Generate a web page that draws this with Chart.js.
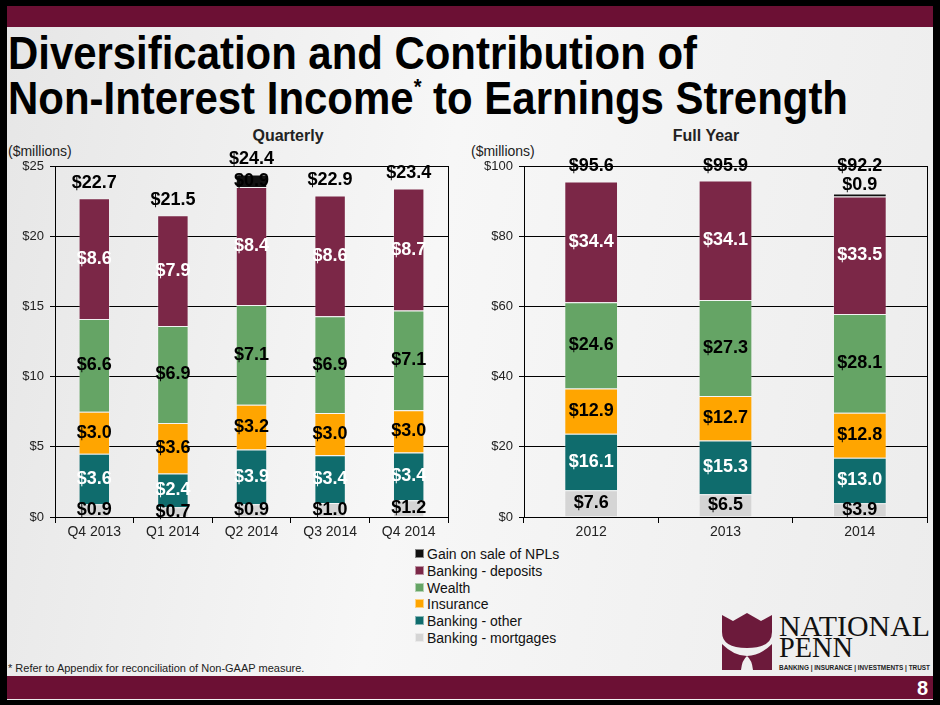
<!DOCTYPE html>
<html>
<head>
<meta charset="utf-8">
<script src="https://cdn.jsdelivr.net/npm/chart.js@4"></script>
<style>
  body { margin: 0; background: #000; }
  #slide { position: relative; width: 940px; height: 705px; background: #000; overflow: hidden; font-family: "Liberation Sans", Arial, sans-serif; }
  #page { position: absolute; left: 7px; top: 6px; width: 926px; height: 694px; background: linear-gradient(100deg, #e6e6e6 0%, #f7f7f7 45%, #ececec 100%); }
  .band { position: absolute; left: 7px; width: 926px; background: #6c1034; }
  .title { position: absolute; left: 8px; font-weight: bold; font-size: 46px; color: #000; white-space: nowrap; transform-origin: left top; line-height: 46px; }
  .title sup { font-size: 22px; vertical-align: 20px; line-height: 0; }
  .lbl { position: absolute; font-size: 14px; color: #222; white-space: nowrap; }
  .head { position: absolute; font-size: 16px; font-weight: bold; color: #222; transform: translateX(-50%); white-space: nowrap; }
  canvas { position: absolute; }
  #legend { position: absolute; left: 415px; top: 546px; font-size: 14px; color: #111; }
  #legend div { height: 16.8px; line-height: 16.8px; white-space: nowrap; }
  #legend span { display: inline-block; width: 7px; height: 7px; margin-right: 3px; vertical-align: 1px; border: 1px solid rgba(255,255,255,0.5); }
</style>
</head>
<body>
<div id="slide">
  <div id="page"></div>
  <div class="band" style="top:6px;height:21px;"></div>
  <div class="band" style="top:676px;height:23px;"></div>
  <div style="position:absolute;left:900px;top:676px;width:28px;height:23px;color:#fff;font-weight:bold;font-size:20px;line-height:25px;text-align:right;">8</div>

  <div class="title" id="t1" style="top:30px;">Diversification and Contribution of</div>
  <div class="title" id="t2" style="top:75px;">Non-Interest Income<sup>*</sup> to Earnings Strength</div>

  <div class="head" style="left:288px;top:127px;">Quarterly</div>
  <div class="head" style="left:706px;top:127px;">Full Year</div>
  <div class="lbl" style="left:8px;top:143px;">($millions)</div>
  <div class="lbl" style="left:471px;top:143px;">($millions)</div>

  <canvas id="quarterChart" width="442" height="405" style="left:8px;top:140px;"></canvas>
  <canvas id="yearChart" width="449" height="405" style="left:480px;top:140px;"></canvas>

  <div id="legend"></div>

  <div style="position:absolute;left:8px;top:662px;font-size:11px;color:#222;">* Refer to Appendix for reconciliation of Non-GAAP measure.</div>

  <svg style="position:absolute;left:720px;top:610px;" width="215" height="64">
    <path d="M2,5 L13,11 L27,3 L41,11 L52,5 L52,22 Q52,38 27,38 Q2,38 2,22 Z" fill="#6c1a3b"/>
    <path d="M2,34 Q14,46 27,46 Q22,50 21,60 L2,60 Z" fill="#6c1a3b"/>
    <path d="M52,34 Q40,46 27,46 Q32,50 33,60 L52,60 Z" fill="#6c1a3b"/>
    <text x="59" y="26" font-family="Liberation Serif, Times New Roman, serif" font-size="30" textLength="151" lengthAdjust="spacingAndGlyphs" fill="#111">NATIONAL</text>
    <text x="59" y="47" font-family="Liberation Serif, Times New Roman, serif" font-size="30" textLength="74" lengthAdjust="spacingAndGlyphs" fill="#111">PENN</text>
    <text x="59" y="60" font-family="Liberation Sans, Arial, sans-serif" font-weight="bold" font-size="8" textLength="151" lengthAdjust="spacingAndGlyphs" fill="#222">BANKING | INSURANCE | INVESTMENTS | TRUST</text>
  </svg>
</div>

<script>
const seriesNames = ['Banking - mortgages', 'Banking - other', 'Insurance', 'Wealth', 'Banking - deposits', 'Gain on sale of NPLs'];
const seriesColors = ['#d5d5d5', '#0f6c6d', '#ffa500', '#65a465', '#7b2747', '#111111'];
const labelColors = ['#000', '#fff', '#000', '#000', '#fff', '#000'];

// quarterly
const quarters = ['Q4 2013', 'Q1 2014', 'Q2 2014', 'Q3 2014', 'Q4 2014'];
const qMortgages = [0.9, 0.7, 0.9, 1.0, 1.2];
const qOther = [3.6, 2.4, 3.9, 3.4, 3.4];
const qInsurance = [3.0, 3.6, 3.2, 3.0, 3.0];
const qWealth = [6.6, 6.9, 7.1, 6.9, 7.1];
const qDeposits = [8.6, 7.9, 8.4, 8.6, 8.7];
const qGain = [0, 0, 0.9, 0, 0];
const qTotals = [22.7, 21.5, 24.4, 22.9, 23.4];
const qTicks = [0, 5, 10, 15, 20, 25];

// full year
const years = ['2012', '2013', '2014'];
const yMortgages = [7.6, 6.5, 3.9];
const yOther = [16.1, 15.3, 13.0];
const yInsurance = [12.9, 12.7, 12.8];
const yWealth = [24.6, 27.3, 28.1];
const yDeposits = [34.4, 34.1, 33.5];
const yGain = [0, 0, 0.9];
const yTotals = [95.6, 95.9, 92.2];
const yTicks = [0, 20, 40, 60, 80, 100];

const FONT = '"Liberation Sans", Arial, sans-serif';

// fit the condensed-looking title lines
function fitWidth(id, w) {
    const el = document.getElementById(id);
    const r = el.getBoundingClientRect().width;
    el.style.transform = 'scaleX(' + (w / r) + ')';
}
fitWidth('t1', 689);
fitWidth('t2', 840);

// legend (reverse order like the slide)
const legend = document.getElementById('legend');
for (let i = seriesNames.length - 1; i >= 0; i--) {
    const row = document.createElement('div');
    row.innerHTML = '<span style="background:' + seriesColors[i] + '"></span>' + seriesNames[i];
    legend.appendChild(row);
}

const valueLabels = {
    id: 'valueLabels',
    afterDatasetsDraw(chart, args, opts) {
        const ctx = chart.ctx;
        const yScale = chart.scales.y;
        ctx.save();
        ctx.font = 'bold 18px ' + FONT;
        ctx.textAlign = 'center';
        ctx.textBaseline = 'middle';
        chart.data.datasets.forEach((ds, di) => {
            const meta = chart.getDatasetMeta(di);
            meta.data.forEach((bar, i) => {
                const v = ds.data[i];
                if (!v) return;
                let y = (bar.y + bar.base) / 2;
                if (ds.labelAbove) y = bar.y - 8;
                ctx.fillStyle = labelColors[di];
                ctx.fillText('$' + v.toFixed(1), bar.x, y);
            });
        });
        const meta0 = chart.getDatasetMeta(0);
        ctx.fillStyle = '#000';
        opts.totals.forEach((t, i) => {
            const x = meta0.data[i].x;
            let y;
            if (opts.totalsAtTop) {
                y = yScale.getPixelForValue(yScale.max);
            } else {
                y = yScale.getPixelForValue(t) - 15;
            }
            ctx.fillText('$' + t.toFixed(1), x, y);
        });
        // right frame line
        ctx.strokeStyle = '#000';
        ctx.lineWidth = 1;
        ctx.beginPath();
        ctx.moveTo(chart.chartArea.right + 0.5, chart.chartArea.top);
        ctx.lineTo(chart.chartArea.right + 0.5, chart.chartArea.bottom);
        ctx.stroke();
        ctx.restore();
    }
};

function makeDatasets(arrays, gainAbove) {
    return arrays.map((arr, i) => ({
        label: seriesNames[i],
        data: arr,
        backgroundColor: seriesColors[i],
        borderColor: 'rgba(255,255,255,0.25)',
        borderWidth: 1,
        barPercentage: 0.4,
        categoryPercentage: 1.0,
        labelAbove: gainAbove && i === 5
    }));
}

function makeOptions(max, step, yWidth, totals, totalsAtTop) {
    return {
        responsive: false,
        animation: false,
        layout: { padding: { top: 26, right: 2 } },
        plugins: {
            legend: { display: false },
            tooltip: { enabled: false },
            valueLabels: { totals: totals, totalsAtTop: totalsAtTop }
        },
        scales: {
            x: {
                stacked: true,
                grid: { offset: true, drawOnChartArea: false, color: '#000', tickLength: 6 },
                border: { color: '#000' },
                ticks: { color: '#222', font: { family: FONT, size: 14 }, padding: 1 },
                afterFit: s => { s.height = 28; }
            },
            y: {
                stacked: true,
                min: 0,
                max: max,
                ticks: { stepSize: step, color: '#222', padding: 6, font: { family: FONT, size: 13 }, callback: v => '$' + v },
                grid: { color: '#000', tickLength: 5 },
                border: { color: '#000' },
                afterFit: s => { s.width = yWidth; }
            }
        }
    };
}

new Chart(document.getElementById('quarterChart'), {
    type: 'bar',
    data: {
        labels: quarters,
        datasets: makeDatasets([qMortgages, qOther, qInsurance, qWealth, qDeposits, qGain], false)
    },
    options: makeOptions(qTicks[qTicks.length - 1], qTicks[1], 47, qTotals, false),
    plugins: [valueLabels]
});

new Chart(document.getElementById('yearChart'), {
    type: 'bar',
    data: {
        labels: years,
        datasets: makeDatasets([yMortgages, yOther, yInsurance, yWealth, yDeposits, yGain], true)
    },
    options: makeOptions(yTicks[yTicks.length - 1], yTicks[1], 44, yTotals, true),
    plugins: [valueLabels]
});
</script>
</body>
</html>
